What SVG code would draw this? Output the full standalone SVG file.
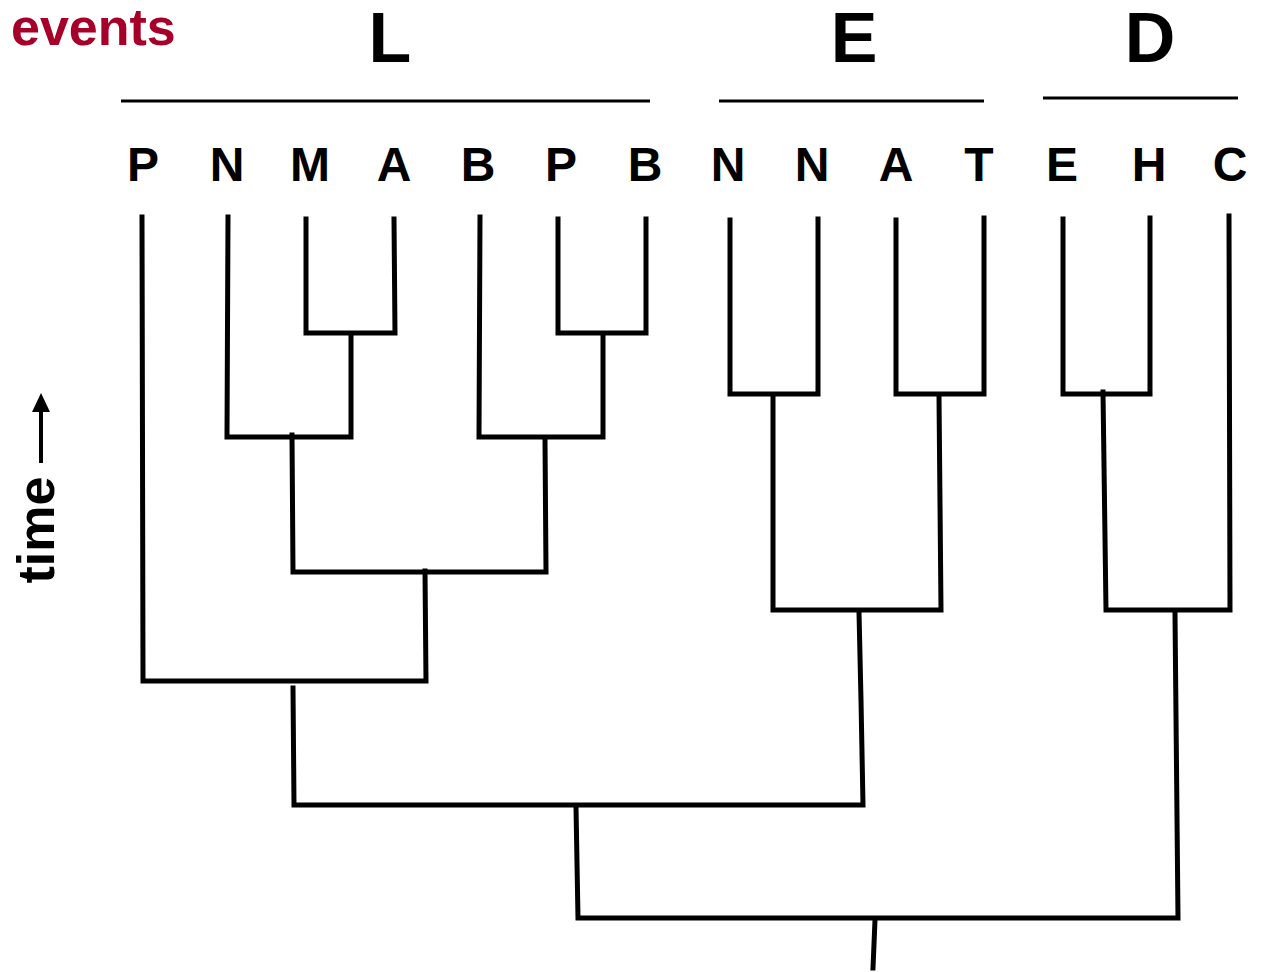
<svg xmlns="http://www.w3.org/2000/svg" width="1266" height="972" viewBox="0 0 1266 972">
<style>
  .leaf { font-family: "Liberation Sans", Arial, sans-serif; font-weight: bold; font-size: 48px; fill: #000; text-anchor: middle; }
  .title { font-family: "Liberation Sans", Arial, sans-serif; font-weight: bold; font-size: 70px; fill: #000; text-anchor: middle; }
  .bar { stroke: #000; stroke-width: 3; fill: none; }
  .tree { stroke: #000; stroke-width: 5; fill: none; stroke-linecap: square; stroke-linejoin: miter; }
  .lab { font-family: "Liberation Sans", Arial, sans-serif; font-weight: bold; font-size: 52px; }
</style>
<defs>
  <marker id="arrow" markerWidth="6" markerHeight="6" refX="5" refY="3" orient="auto" markerUnits="strokeWidth">
    <path d="M0,0 L6,3 L0,6 Z" fill="#000"/>
  </marker>
</defs>
<rect width="1266" height="972" fill="#fff"/>
<text id="events" class="lab" x="11" y="45" fill="#A6002A">events</text>
<g id="time-axis">
  <text class="lab" x="54" y="530" fill="#000" text-anchor="middle" transform="rotate(-90 54 530)">time</text>
  <line x1="41" y1="463" x2="41" y2="408" stroke="#000" stroke-width="4"/>
  <path d="M32,412 L41,393 L50,412 Z" fill="#000"/>
</g>
<g id="group-L">
  <text class="title" x="390" y="62">L</text>
  <line class="bar" x1="121" y1="101" x2="650" y2="101"/>
</g>
<g id="group-E">
  <text class="title" x="854" y="62">E</text>
  <line class="bar" x1="719" y1="101" x2="984" y2="101"/>
</g>
<g id="group-D">
  <text class="title" x="1150" y="62">D</text>
  <line class="bar" x1="1043" y1="98" x2="1238" y2="98"/>
</g>
<g id="leaf-P1"><text class="leaf" x="143" y="181">P</text></g>
<g id="leaf-N1"><text class="leaf" x="227" y="181">N</text></g>
<g id="leaf-M"><text class="leaf" x="310" y="181">M</text></g>
<g id="leaf-A1"><text class="leaf" x="394" y="181">A</text></g>
<g id="leaf-B1"><text class="leaf" x="478" y="181">B</text></g>
<g id="leaf-P2"><text class="leaf" x="561" y="181">P</text></g>
<g id="leaf-B2"><text class="leaf" x="645" y="181">B</text></g>
<g id="leaf-N2"><text class="leaf" x="728" y="181">N</text></g>
<g id="leaf-N3"><text class="leaf" x="812" y="181">N</text></g>
<g id="leaf-A2"><text class="leaf" x="896" y="181">A</text></g>
<g id="leaf-T"><text class="leaf" x="979" y="181">T</text></g>
<g id="leaf-E"><text class="leaf" x="1062" y="181">E</text></g>
<g id="leaf-H"><text class="leaf" x="1149" y="181">H</text></g>
<g id="leaf-C"><text class="leaf" x="1230" y="181">C</text></g>
<g id="connectors">
  <!-- L group -->
  <polyline class="tree" points="142,217 143,681 426,681 425,571"/>
  <polyline class="tree" points="228,217 227,437 351,437 351,335"/>
  <polyline class="tree" points="306,219 306,333 395,333 394,219"/>
  <polyline class="tree" points="292,435 293,572 546,572 545,439"/>
  <polyline class="tree" points="480,217 479,437 603,437 603,335"/>
  <polyline class="tree" points="558,219 558,333 646,333 646,219"/>
  <polyline class="tree" points="293,688 294,805 863,805 861,700 859,612"/>
  <!-- E group -->
  <polyline class="tree" points="730,220 730,394 818,394 818,219"/>
  <polyline class="tree" points="896,220 896,394 984,394 984,218"/>
  <polyline class="tree" points="773,396 773,610 941,610 939,396"/>
  <!-- D group -->
  <polyline class="tree" points="1063,219 1063,394 1150,394 1150,218"/>
  <polyline class="tree" points="1103,392 1106,610 1230,610 1229,216"/>
  <!-- upper joins -->
  <polyline class="tree" points="576,807 578,918 1178,918 1175,614"/>
  <line class="tree" x1="875" y1="920" x2="873" y2="968"/>
</g>
</svg>
